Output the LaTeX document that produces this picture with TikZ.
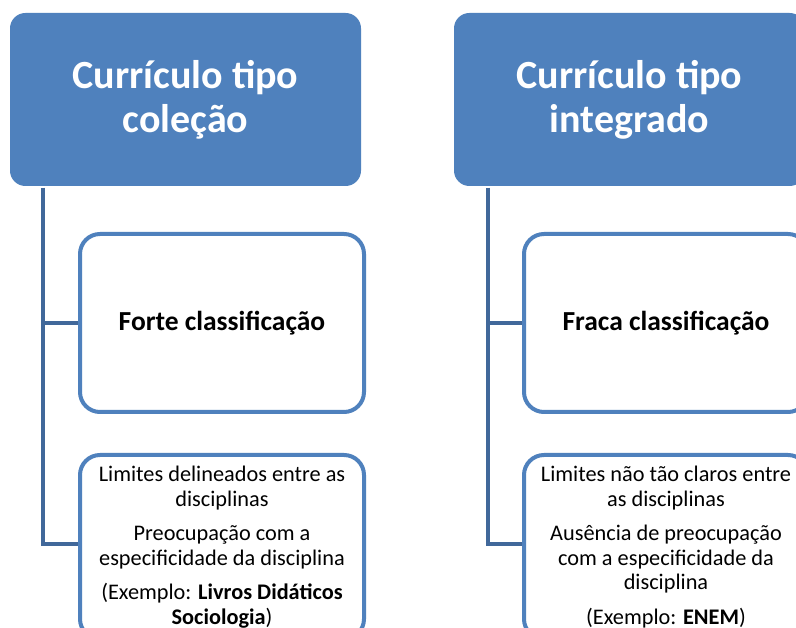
\documentclass[tikz,border=0pt]{standalone}
\usepackage{fontspec}
\setmainfont{Carlito}
\definecolor{accent}{HTML}{4F81BD}
\definecolor{connblue}{HTML}{41689A}
\tikzset{
  headbox/.style={draw=accent, fill=accent, rounded corners=15pt, line width=1pt,
    minimum width=350pt, minimum height=172pt, anchor=north west, inner sep=0pt,
    text=white, align=center, font=\fontsize{40}{44}\selectfont\bfseries},
  midbox/.style={draw=accent, fill=white, rounded corners=20pt, line width=4pt,
    minimum width=284pt, minimum height=178pt, anchor=north west, inner sep=0pt,
    align=center, font=\fontsize{27.5}{32}\selectfont\bfseries},
  lowbox/.style={draw=accent, fill=white, rounded corners=20pt, line width=4pt,
    minimum width=284pt, minimum height=184pt, anchor=north west, inner sep=0pt,
    align=center, font=\fontsize{22.3}{24.5}\selectfont},
  conn/.style={draw=connblue, line width=4pt}
}
\begin{document}
\begin{tikzpicture}[x=1pt,y=-1pt]
\path[use as bounding box] (0,0) rectangle (796,628);
\fill[white] (0,0) rectangle (796,628);
\clip (0,0) rectangle (796,628);
% left column
\node[headbox] (t1) at (10,13) {Currículo tipo\\coleção};
\node[midbox] (m1) at (78,232) {Forte classificação};
\node[lowbox] (b1) at (78,453) {Limites delineados entre as\\disciplinas\\[10pt]Preocupação com a\\especificidade da disciplina\\[10pt](Exemplo: \textbf{Livros Didáticos}\\\textbf{Sociologia})};
\coordinate (s1) at ([xshift=33pt,yshift=-2pt]t1.south west);
\draw[conn] (s1) |- (m1.west);
\draw[conn] (s1) |- ([yshift=3pt]b1.west);
% right column
\node[headbox] (t2) at (454,13) {Currículo tipo\\integrado};
\node[midbox] (m2) at (522,232) {Fraca classificação};
\node[lowbox] (b2) at (522,453) {Limites não tão claros entre\\as disciplinas\\[10pt]Ausência de preocupação\\com a especificidade da\\disciplina\\[10pt](Exemplo: \textbf{ENEM})};
\coordinate (s2) at ([xshift=34pt,yshift=-2pt]t2.south west);
\draw[conn] (s2) |- (m2.west);
\draw[conn] (s2) |- ([yshift=3pt]b2.west);
\end{tikzpicture}
\end{document}
